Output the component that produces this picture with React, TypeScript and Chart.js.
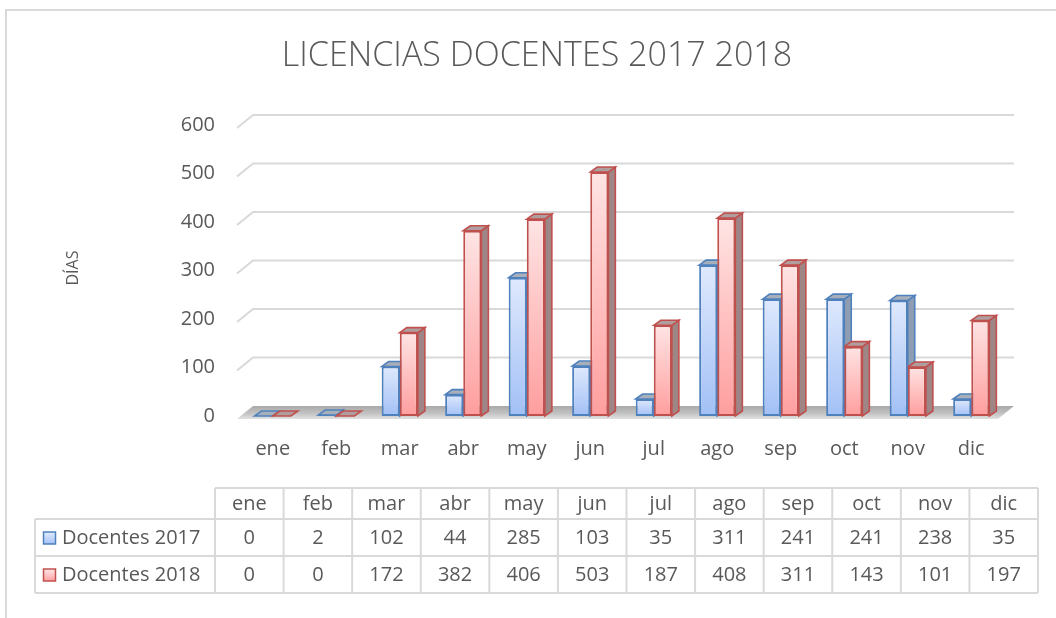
import React, { useEffect, useRef } from "react";
import { Chart, registerables } from "chart.js";

Chart.register(...registerables);

const TITLE = "LICENCIAS DOCENTES 2017 2018";
const Y_TITLE = "DÍAS";
const MONTHS = ["ene", "feb", "mar", "abr", "may", "jun", "jul", "ago", "sep", "oct", "nov", "dic"];
const SERIES_NAMES = ["Docentes 2017", "Docentes 2018"];
const DOCENTES_2017 = [0, 2, 102, 44, 285, 103, 35, 311, 241, 241, 238, 35];
const DOCENTES_2018 = [0, 0, 172, 382, 406, 503, 187, 408, 311, 143, 101, 197];
const Y_TICKS = [0, 100, 200, 300, 400, 500, 600];

const W = 1056;
const H = 618;
const FONT = "'Open Sans', 'Noto Sans', sans-serif";
const TEXT = "#595959";
const LINE = "#d9d9d9";
const FS = 20;

const STYLES = [
  { border: "#4f81bd", top: "#dfe9fd", bottom: "#a2c0f6", side: "#8e9db2", cap: "#a7afbb" },
  { border: "#c0504d", top: "#ffe4e4", bottom: "#ff9e9e", side: "#9f8686", cap: "#b09e9e" },
];

// 3D offsets
const GDX = 16;
const GDY = 13;
const BDX = 7;
const BDY = 5;

function makeGradient(styleIdx: number) {
  return (ctx: any) => {
    const s = STYLES[styleIdx];
    const chart = ctx.chart;
    const ys = chart.scales && chart.scales.y;
    if (!ys || ctx.type !== "data" || !chart.chartArea) return s.bottom;
    const v = ctx.raw as number;
    const yT = ys.getPixelForValue(v);
    const yB = ys.getPixelForValue(0);
    if (!isFinite(yT) || !isFinite(yB) || yB - yT < 2) return s.bottom;
    const g = chart.ctx.createLinearGradient(0, yT, 0, yB);
    g.addColorStop(0, s.top);
    g.addColorStop(1, s.bottom);
    return g;
  };
}

const frame3d = {
  id: "frame3d",
  beforeDraw(chart: any) {
    const c = chart.ctx;
    c.save();
    c.fillStyle = "#ffffff";
    c.fillRect(0, 0, W, H);
    c.strokeStyle = LINE;
    c.lineWidth = 2;
    c.beginPath();
    c.moveTo(6, H);
    c.lineTo(6, 10);
    c.lineTo(W, 10);
    c.stroke();
    c.fillStyle = TEXT;
    c.font = `300 34px ${FONT}`;
    c.textAlign = "center";
    c.textBaseline = "middle";
    c.fillText(TITLE, 537, 56);
    c.save();
    c.translate(73, 268);
    c.rotate(-Math.PI / 2);
    c.font = `16px ${FONT}`;
    c.fillText(Y_TITLE, 0, 0);
    c.restore();
    c.restore();
  },
  beforeDatasetsDraw(chart: any) {
    const c = chart.ctx;
    const ca = chart.chartArea;
    const ys = chart.scales.y;
    const x0 = ca.left - 4;
    const xEnd = ca.right + 11;
    c.save();
    c.strokeStyle = LINE;
    c.lineWidth = 2;
    for (const v of Y_TICKS) {
      if (v === 0) continue;
      const yF = ys.getPixelForValue(v) + 3;
      c.beginPath();
      c.moveTo(x0, yF);
      c.lineTo(x0 + GDX, yF - GDY);
      c.lineTo(xEnd, yF - GDY);
      c.stroke();
    }
    const y0 = ys.getPixelForValue(0) + 3;
    const fg = c.createLinearGradient(0, y0 - GDY, 0, y0);
    fg.addColorStop(0, "#a9a9a9");
    fg.addColorStop(0.6, "#c4c4c4");
    fg.addColorStop(1, "#e2e2e2");
    c.fillStyle = fg;
    c.beginPath();
    c.moveTo(x0, y0);
    c.lineTo(x0 + GDX, y0 - GDY);
    c.lineTo(xEnd, y0 - GDY);
    c.lineTo(xEnd - GDX, y0);
    c.closePath();
    c.fill();

    chart.data.datasets.forEach((ds: any, di: number) => {
      const meta = chart.getDatasetMeta(di);
      const s = STYLES[di];
      meta.data.forEach((el: any) => {
        const { x, y, base, width } = el.getProps(["x", "y", "base", "width"], true);
        const l = x - width / 2;
        const r = x + width / 2;
        c.lineWidth = 1.6;
        c.strokeStyle = s.border;
        if (base - y > 0.5) {
          c.fillStyle = s.side;
          c.beginPath();
          c.moveTo(r, y);
          c.lineTo(r + BDX, y - BDY);
          c.lineTo(r + BDX, base - BDY);
          c.lineTo(r, base);
          c.closePath();
          c.fill();
          c.stroke();
        }
        c.fillStyle = s.cap;
        c.beginPath();
        c.moveTo(l, y);
        c.lineTo(l + BDX, y - BDY);
        c.lineTo(r + BDX, y - BDY);
        c.lineTo(r, y);
        c.closePath();
        c.fill();
        c.stroke();
      });
    });
    c.restore();
  },
  afterDraw(chart: any) {
    const c = chart.ctx;
    const tL = 215;
    const tR = 1038;
    const legL = 35;
    const rows = [488, 519, 556, 593];
    const colW = (tR - tL) / MONTHS.length;
    c.save();
    c.strokeStyle = LINE;
    c.lineWidth = 2;
    c.beginPath();
    c.moveTo(tL, rows[0]);
    c.lineTo(tR, rows[0]);
    for (let i = 1; i < rows.length; i++) {
      c.moveTo(legL, rows[i]);
      c.lineTo(tR, rows[i]);
    }
    c.moveTo(legL, rows[1]);
    c.lineTo(legL, rows[3]);
    for (let i = 0; i <= MONTHS.length; i++) {
      const x = tL + i * colW;
      c.moveTo(x, rows[0]);
      c.lineTo(x, rows[3]);
    }
    c.stroke();

    c.fillStyle = TEXT;
    c.font = `${FS}px ${FONT}`;
    c.textBaseline = "middle";
    c.textAlign = "center";
    MONTHS.forEach((m, i) => {
      c.fillText(m, tL + (i + 0.5) * colW, (rows[0] + rows[1]) / 2 + 1);
    });
    const seriesVals = [DOCENTES_2017, DOCENTES_2018];
    seriesVals.forEach((vals, si) => {
      const yc = (rows[si + 1] + rows[si + 2]) / 2 + 1;
      vals.forEach((v, i) => {
        c.fillText(String(v), tL + (i + 0.5) * colW, yc);
      });
      const s = STYLES[si];
      const g = c.createLinearGradient(0, yc - 6, 0, yc + 6);
      g.addColorStop(0, s.top);
      g.addColorStop(1, s.bottom);
      c.fillStyle = g;
      c.fillRect(43.5, yc - 6.5, 12, 12);
      c.strokeStyle = s.border;
      c.lineWidth = 1.5;
      c.strokeRect(43.5, yc - 6.5, 12, 12);
      c.fillStyle = TEXT;
      c.textAlign = "left";
      c.fillText(SERIES_NAMES[si], 62, yc);
      c.textAlign = "center";
    });
    c.restore();
  },
};

export default function App() {
  const ref = useRef<HTMLCanvasElement | null>(null);
  useEffect(() => {
    if (!ref.current) return;
    const chart = new Chart(ref.current, {
      type: "bar",
      data: {
        labels: MONTHS,
        datasets: [
          {
            label: SERIES_NAMES[0],
            data: DOCENTES_2017,
            backgroundColor: makeGradient(0),
            borderColor: STYLES[0].border,
            borderWidth: 2,
            borderSkipped: false,
          },
          {
            label: SERIES_NAMES[1],
            data: DOCENTES_2018,
            backgroundColor: makeGradient(1),
            borderColor: STYLES[1].border,
            borderWidth: 2,
            borderSkipped: false,
          },
        ],
      },
      options: {
        animation: false,
        responsive: false,
        devicePixelRatio: 1,
        layout: { padding: { left: 0, right: 53, top: 125, bottom: 0 } },
        datasets: { bar: { barPercentage: 1, categoryPercentage: 0.57 } },
        plugins: {
          legend: { display: false },
          tooltip: { enabled: false },
          title: { display: false },
        },
        scales: {
          x: {
            grid: { display: false, drawTicks: false },
            border: { display: false },
            ticks: {
              color: TEXT,
              font: { family: FONT, size: FS },
              padding: 21,
              maxRotation: 0,
            },
            afterFit(scale: any) {
              scale.height = 202;
            },
          },
          y: {
            min: 0,
            max: 600,
            grid: { display: false, drawTicks: false },
            border: { display: false },
            ticks: {
              stepSize: 100,
              color: TEXT,
              font: { family: FONT, size: FS },
              padding: 26,
            },
            afterFit(scale: any) {
              scale.width = 241;
            },
          },
        },
      },
      plugins: [frame3d],
    });
    return () => chart.destroy();
  }, []);
  return (
    <canvas
      ref={ref}
      width={W}
      height={H}
      style={{ position: "absolute", left: 0, top: 0, width: W, height: H, display: "block" }}
    />
  );
}
